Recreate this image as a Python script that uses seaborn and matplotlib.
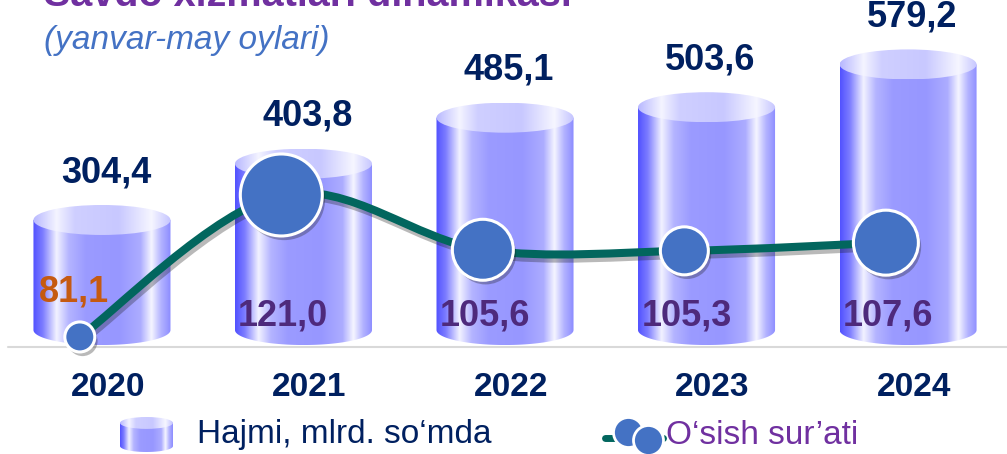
import numpy as np
import matplotlib
matplotlib.use("Agg")
import matplotlib.pyplot as plt
import seaborn as sns
import matplotlib.patheffects as pe
from matplotlib.colors import LinearSegmentedColormap
from matplotlib.path import Path
from matplotlib.patches import PathPatch, Ellipse
from matplotlib.lines import Line2D

# data
years = ["2020", "2021", "2022", "2023", "2024"]
volume = [304.4, 403.8, 485.1, 503.6, 579.2]   # mlrd. so'm
growth = [81.1, 121.0, 105.6, 105.3, 107.6]    # o'sish sur'ati, %

title = "Savdo xizmatlari dinamikasi"
subtitle = "(yanvar-may oylari)"
legend_bar = "Hajmi, mlrd. so‘mda"
legend_line = "O‘sish sur’ati"

# style
W, H = 1007, 454
BASE = 110                 # value where the cylinders stand
VMIN, VMAX = -109, 693
GMIN, GMAX = 48.2, 175.8
marker_px = [30, 82, 61, 48, 65]
navy = "#002060"
purple = "#4e2a7c"
orange = "#c55a11"
teal = "#02665e"
dot = "#4472c4"

sns.set_theme(style="white")
plt.rcParams["font.family"] = ["Liberation Sans", "DejaVu Sans"]

body_cmap = LinearSegmentedColormap.from_list("body", [
    (0.0, "#5252ff"), (0.07, "#7d7dff"), (0.17, "#f2f2ff"), (0.26, "#b4b4ff"),
    (0.38, "#9b9bff"), (0.62, "#9797ff"), (0.78, "#acacff"), (0.86, "#f5f5ff"),
    (0.93, "#b3b3ff"), (1.0, "#8c8cff")])
top_cmap = LinearSegmentedColormap.from_list("top", [
    (0.0, "#b8b8ff"), (0.17, "#f4f4ff"), (0.3, "#cfcfff"), (0.62, "#c8c8ff"),
    (0.86, "#f6f6ff"), (1.0, "#c4c4ff")])
grad = np.linspace(0, 1, 256).reshape(1, -1)


def cylinder(a, x0, w, y0, y1, eh, z=2):
    cx = x0 + w / 2
    th = np.linspace(np.pi, 2 * np.pi, 80)
    arc = np.column_stack([cx + w / 2 * np.cos(th), y0 + eh / 2 * np.sin(th)])
    verts = np.vstack([[x0, y1], arc, [x0 + w, y1], [x0, y1]])
    body = PathPatch(Path(verts, closed=True), fc="none", ec="none")
    a.add_patch(body)
    im = a.imshow(grad, cmap=body_cmap, extent=(x0, x0 + w, y0 - eh / 2, y1),
                  aspect="auto", zorder=z, interpolation="bilinear")
    im.set_clip_path(body)
    cap = Ellipse((cx, y1), w, eh, fc="none", ec="none")
    a.add_patch(cap)
    im2 = a.imshow(grad, cmap=top_cmap, extent=(x0, x0 + w, y1 - eh / 2, y1 + eh / 2),
                   aspect="auto", zorder=z + 0.1, interpolation="bilinear")
    im2.set_clip_path(cap)


fig = plt.figure(figsize=(W / 100, H / 100), dpi=100)
ax = fig.add_axes([0, 0, 1, 1])
sns.barplot(x=years, y=volume, ax=ax, width=0.68, color="#9999ff")

eh = 30 * (VMAX - VMIN) / H
for i, (p, v) in enumerate(zip(ax.patches, volume)):
    x0, w, top = p.get_x(), p.get_width(), p.get_height()
    p.set_visible(False)
    cylinder(ax, x0, w, BASE, top, eh)
    ax.annotate(f"{v:.1f}".replace(".", ","), (x0 + w / 2 + 0.02, top),
                xytext=(0, 34), textcoords="offset points", ha="center", va="center",
                fontsize=26, fontweight="bold", color=navy)
    ax.text(i + 0.03, 1 - 388 / H, years[i], transform=ax.get_xaxis_transform(),
            ha="center", va="center", fontsize=24, fontweight="bold", color=navy)

ax.plot([8 / W, 1], [1 - 347 / H] * 2, transform=ax.transAxes, color="#d9d9d9", lw=1.5, zorder=1)
ax.set_xlim(-0.506, 4.491)
ax.set_ylim(VMIN, VMAX)
ax.axis("off")

# growth line on the second axis
ax2 = ax.twinx()
xs = np.arange(len(growth)) - 0.11
pts = np.column_stack([xs, growth])
ext = np.vstack([pts[0], pts, pts[-1]])
verts = [pts[0]]
codes = [Path.MOVETO]
for i in range(len(pts) - 1):
    p0, p1, p2, p3 = ext[i], ext[i + 1], ext[i + 2], ext[i + 3]
    verts += [p1 + (p2 - p0) / 6, p2 - (p3 - p1) / 6, p2]
    codes += [Path.CURVE4] * 3
curve = PathPatch(Path(verts, codes), fill=False, ec=teal, lw=5.8, capstyle="round", zorder=5,
                  path_effects=[pe.SimpleLineShadow(offset=(1.5, -3), shadow_color="k", alpha=0.3),
                                pe.Normal()])
ax2.add_patch(curve)
sns.scatterplot(x=xs, y=growth, ax=ax2, s=[(d / 1.389) ** 2 for d in marker_px],
                color=dot, edgecolor="white", linewidth=2.2, zorder=6, legend=False,
                path_effects=[pe.SimplePatchShadow(offset=(2, -3), shadow_rgbFace="k", alpha=0.3),
                              pe.Normal()])
for i, g in enumerate(growth):
    lab = f"{g:.1f}".replace(".", ",")
    if i == 0:
        ax2.annotate(lab, (xs[i], g), xytext=(-4, 32), textcoords="offset points",
                     ha="center", va="center", fontsize=26, fontweight="bold", color=orange)
    else:
        ax2.text(i - 0.1, 1 - 316 / H, lab, transform=ax2.get_xaxis_transform(),
                 ha="center", va="center", fontsize=26, fontweight="bold", color=purple, zorder=7)
ax2.set_xlim(-0.506, 4.491)
ax2.set_ylim(GMIN, GMAX)
ax2.axis("off")

# titles (the title runs off the top edge, as in the source)
fig.text(44 / W, 1 - 6 / H, title, fontsize=28.5, fontweight="bold", color="#7030a0", va="baseline")
fig.text(44 / W, 1 - 40 / H, subtitle, fontsize=24, style="italic", color=dot, va="center")

# legend
lax = fig.add_axes([120 / W, 1 - 452 / H, 53 / W, 35 / H])
cylinder(lax, 0, 1, 0.17, 0.83, 0.34)
lax.set_xlim(0, 1)
lax.set_ylim(0, 1)
lax.axis("off")
fig.text(197 / W, 1 - 435 / H, legend_bar, fontsize=24, color=navy, va="center")
fig.add_artist(Line2D([605 / W, 663 / W], [1 - 438 / H] * 2, color=teal, lw=5))
for cx, cy in [(628, 432), (648, 440)]:
    fig.add_artist(Line2D([cx / W], [1 - cy / H], marker="o", ms=30 / 1.389, mfc=dot,
                          mec="white", mew=2))
fig.text(666 / W, 1 - 435 / H, legend_line, fontsize=24, color="#7030a0", va="center")

fig.savefig("out.png", dpi=100)
